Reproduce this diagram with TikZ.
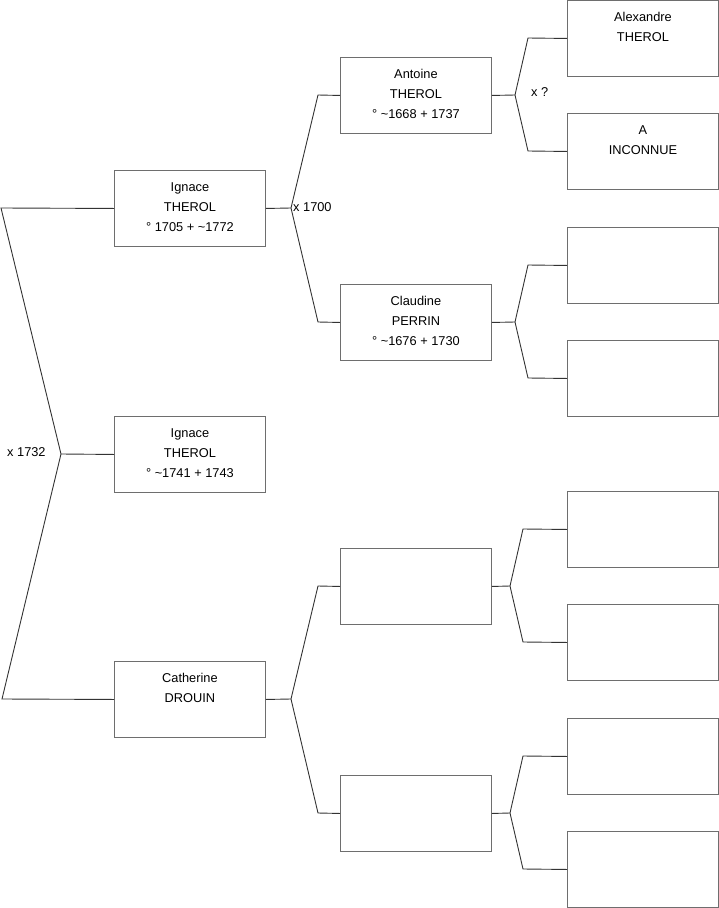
\documentclass[tikz,border=0pt]{standalone}
\usepackage{fontspec}
\setmainfont{Liberation Sans}
\definecolor{boxc}{HTML}{6E6E6E}
\definecolor{linec}{HTML}{333333}
\newcommand{\tld}{\char"7E\relax}
\begin{document}
\begin{tikzpicture}[x=1pt,y=-1pt,
  pbox/.style={draw=boxc,line width=0.9pt,minimum width=151pt,minimum height=76pt,inner sep=0pt,anchor=north west},
  ptext/.style={anchor=north,inner sep=0pt,align=center,font=\fontsize{12.8pt}{20pt}\selectfont},
  conn/.style={draw=linec,line width=0.9pt},
  lbl/.style={anchor=west,inner sep=0pt,font=\fontsize{12.8pt}{14pt}\selectfont}]
\useasboundingbox (0,0) rectangle (719,908);
% column 1
\node[pbox] (g1) at (114,170) {};
\node[pbox] (s1) at (114,416) {};
\node[pbox] (m1) at (114,661) {};
% column 2
\node[pbox] (ff) at (340,57) {};
\node[pbox] (fm) at (340,284) {};
\node[pbox] (mf) at (340,548) {};
\node[pbox] (mm) at (340,775) {};
% column 3
\node[pbox] (a1) at (567,0) {};
\node[pbox] (a2) at (567,113) {};
\node[pbox] (a3) at (567,227) {};
\node[pbox] (a4) at (567,340) {};
\node[pbox] (a5) at (567,491) {};
\node[pbox] (a6) at (567,604) {};
\node[pbox] (a7) at (567,718) {};
\node[pbox] (a8) at (567,831) {};
% texts
\node[ptext] (tg1) at ([yshift=-12pt]g1.north) {Ignace\\THEROL\\° 1705 + \tld1772};
\node[ptext] (ts1) at ([yshift=-12pt]s1.north) {Ignace\\THEROL\\° \tld1741 + 1743};
\node[ptext] (tm1) at ([yshift=-12pt]m1.north) {Catherine\\DROUIN};
\node[ptext] (tff) at ([yshift=-12pt]ff.north) {Antoine\\THEROL\\° \tld1668 + 1737};
\node[ptext] (tfm) at ([yshift=-12pt]fm.north) {Claudine\\PERRIN\\° \tld1676 + 1730};
\node[ptext] (ta1) at ([yshift=-12pt]a1.north) {Alexandre\\THEROL};
\node[ptext] (ta2) at ([yshift=-12pt]a2.north) {A\\INCONNUE};
% junction coordinates
\coordinate (j0) at (61,454);
\coordinate (e0t) at (1,208);
\coordinate (e0b) at (2,699);
\coordinate (j1) at (291,208);
\coordinate (j2) at (291,699);
\coordinate (j3) at (515,95);
\coordinate (j4) at (515,322);
\coordinate (j5) at (510,586);
\coordinate (j6) at (510,813);
% connectors
\draw[conn] (g1.west) -- (e0t) -- (j0) -- (e0b) -- (m1.west);
\draw[conn] (j0) -- (s1.west);
\draw[conn] (g1.east) -- (j1);
\draw[conn] (ff.west) -- (318,95) -- (j1) -- (318,322) -- (fm.west);
\draw[conn] (m1.east) -- (j2);
\draw[conn] (mf.west) -- (318,586) -- (j2) -- (318,813) -- (mm.west);
\draw[conn] (ff.east) -- (j3);
\draw[conn] (a1.west) -- (528,38) -- (j3) -- (528,151) -- (a2.west);
\draw[conn] (fm.east) -- (j4);
\draw[conn] (a3.west) -- (528,265) -- (j4) -- (528,378) -- (a4.west);
\draw[conn] (mf.east) -- (j5);
\draw[conn] (a5.west) -- (523,529) -- (j5) -- (523,642) -- (a6.west);
\draw[conn] (mm.east) -- (j6);
\draw[conn] (a7.west) -- (523,756) -- (j6) -- (523,869) -- (a8.west);
% marriage labels
\node[lbl] (x0) at (7,452) {x 1732};
\node[lbl] (x1) at (293,207) {x 1700};
\node[lbl] (x2) at (531,92) {x ?};
\end{tikzpicture}
\end{document}
